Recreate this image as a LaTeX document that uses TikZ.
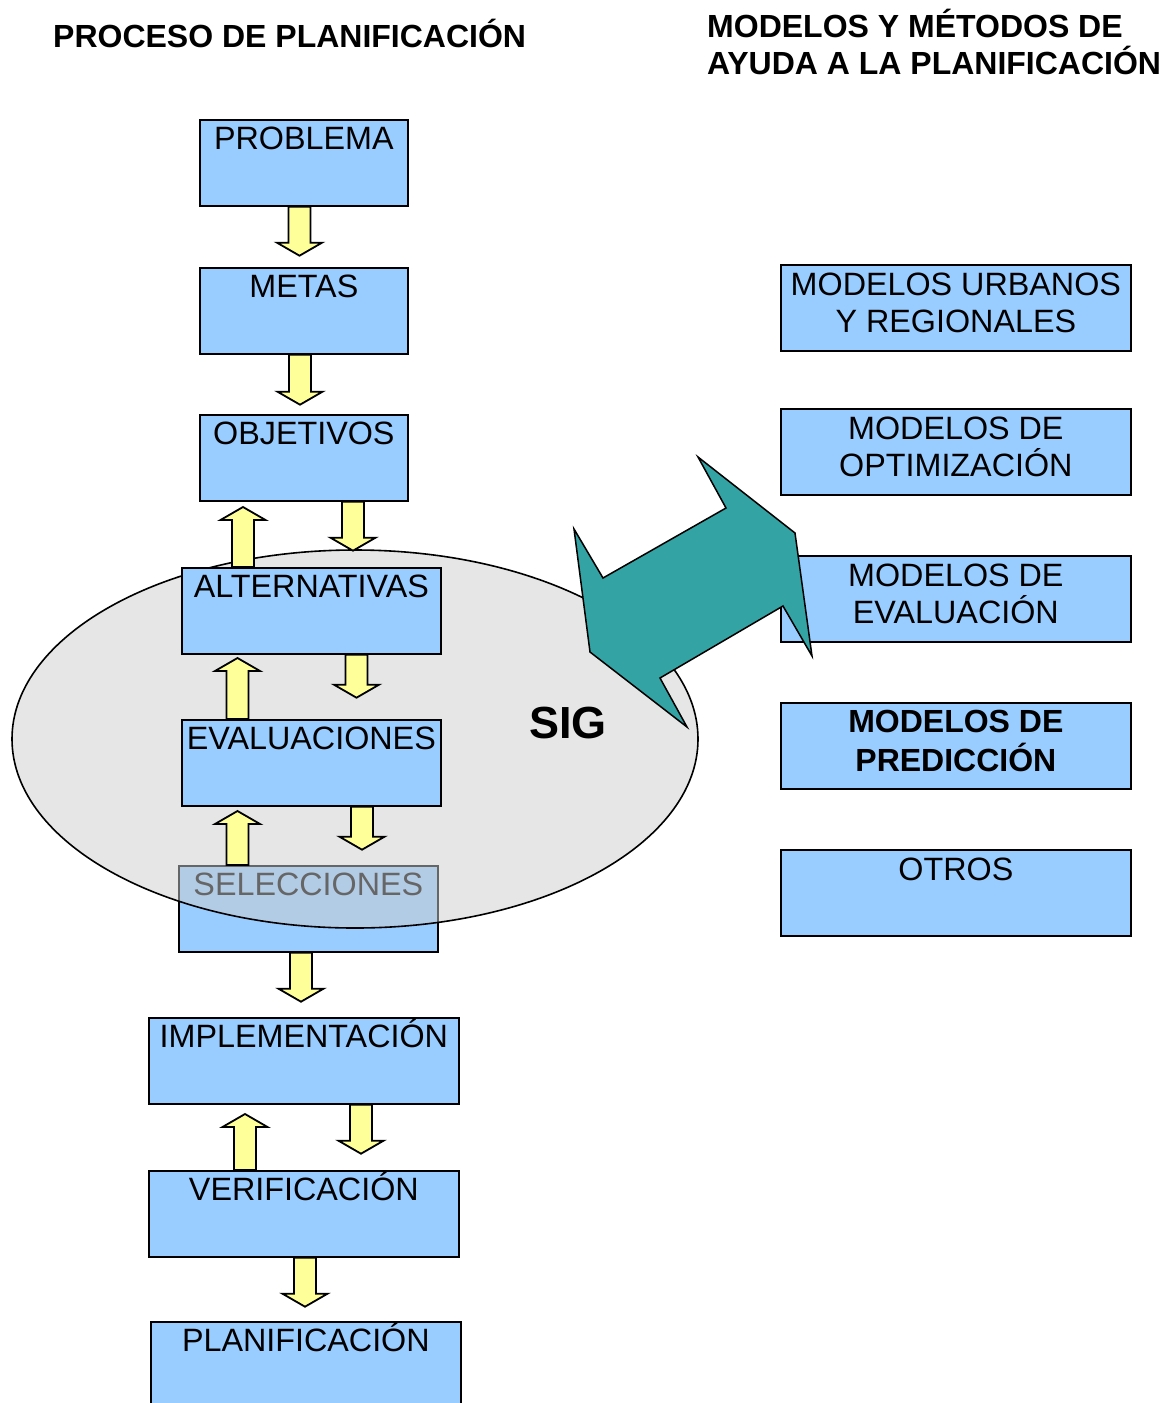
\documentclass[tikz,border=0pt]{standalone}
\usepackage{fontspec}
\setmainfont{Liberation Sans}
\usetikzlibrary{calc,shapes.geometric}
\definecolor{boxblue}{RGB}{153,204,255}
\definecolor{arrowyellow}{RGB}{255,255,153}
\definecolor{tealarrow}{RGB}{51,163,163}
\definecolor{siggray}{RGB}{205,205,205}
\tikzset{
  box/.style={draw=black, line width=1.7pt, fill=boxblue, anchor=north west,
    inner sep=0pt, minimum height=86pt},
  lbl/.style={anchor=base, inner sep=0pt, font=\fontsize{32.3}{37}\selectfont},
  blbl/.style={anchor=base, inner sep=0pt, font=\fontsize{32}{37}\bfseries\selectfont},
  yarrow/.style={draw=black, line width=1.8pt, fill=arrowyellow, line join=miter},
  titletext/.style={font=\fontsize{32}{37}\bfseries\selectfont, anchor=base west, inner sep=0pt},
}
\newcommand{\ydown}[3]{%
  \draw[yarrow] let \p1=(#2.south) in
    (#1pt-11pt,\y1) -- (#1pt+11pt,\y1) -- (#1pt+11pt,\y1-#3pt+13pt)
    -- (#1pt+22.5pt,\y1-#3pt+13pt) -- (#1pt,\y1-#3pt)
    -- (#1pt-22.5pt,\y1-#3pt+13pt) -- (#1pt-11pt,\y1-#3pt+13pt) -- cycle;}
\newcommand{\yup}[3]{%
  \draw[yarrow] let \p1=(#2.north) in
    (#1pt-11pt,\y1) -- (#1pt+11pt,\y1) -- (#1pt+11pt,\y1+#3pt-13pt)
    -- (#1pt+22.5pt,\y1+#3pt-13pt) -- (#1pt,\y1+#3pt)
    -- (#1pt-22.5pt,\y1+#3pt-13pt) -- (#1pt-11pt,\y1+#3pt-13pt) -- cycle;}
\begin{document}
\begin{tikzpicture}[x=1pt,y=-1pt]
\useasboundingbox (0,0) rectangle (1166,1403);

% titles
\node[titletext] (t1) at (53,47) {PROCESO DE PLANIFICACIÓN};
\node[titletext] (t2) at (707,37) {MODELOS Y MÉTODOS DE};
\node[titletext] (t3) at (707,74) {AYUDA A LA PLANIFICACIÓN};

% left column (boxes under the ellipse)
\node[box, minimum width=208pt, label={[lbl,yshift=-30pt]north:PROBLEMA}] (problema) at (199,119) {};
\node[box, minimum width=208pt, label={[lbl,yshift=-30pt]north:METAS}] (metas) at (199,267) {};
\node[box, minimum width=208pt, label={[lbl,yshift=-30pt]north:OBJETIVOS}] (objetivos) at (199,414) {};
\node[box, minimum width=259pt, label={[lbl,yshift=-30pt]north:SELECCIONES}] (selecciones) at (178,865) {};
\node[box, minimum width=310pt, label={[lbl,yshift=-30pt]north:IMPLEMENTACIÓN}] (implementacion) at (148,1017) {};
\node[box, minimum width=310pt, label={[lbl,yshift=-30pt]north:VERIFICACIÓN}] (verificacion) at (148,1170) {};
\node[box, minimum width=310pt, minimum height=100pt, label={[lbl,yshift=-30pt]north:PLANIFICACIÓN}] (planificacion) at (150,1321) {};

% SIG ellipse
\node[ellipse, draw=black, line width=1.6pt, fill=siggray, fill opacity=0.5,
  minimum width=686pt, minimum height=378pt, inner sep=0pt] (sig) at (355,739) {};

% boxes above the ellipse
\node[box, minimum width=259pt, label={[lbl,yshift=-30pt]north:ALTERNATIVAS}] (alternativas) at (181,567) {};
\node[box, minimum width=259pt, label={[lbl,yshift=-30pt]north:EVALUACIONES}] (evaluaciones) at (181,719) {};

\node[anchor=base west, inner sep=0pt, font=\fontsize{45}{50}\bfseries\selectfont] (sigtext) at (529,738) {SIG};

% yellow block arrows
\ydown{299.5}{problema}{49}
\ydown{300}{metas}{50}
\yup{243}{alternativas}{60}
\ydown{353}{objetivos}{49}
\yup{237.5}{evaluaciones}{61}
\ydown{356.5}{alternativas}{43}
\yup{237.5}{selecciones}{54}
\ydown{362}{evaluaciones}{43}
\ydown{301}{selecciones}{49}
\yup{245}{verificacion}{56}
\ydown{361}{implementacion}{49}
\ydown{305}{verificacion}{49}

% right column
\node[box, minimum width=350pt, label={[lbl,yshift=-31pt]north:MODELOS URBANOS}, label={[lbl,yshift=-68pt]north:Y REGIONALES}] (urbanos) at (780,264) {};
\node[box, minimum width=350pt, label={[lbl,yshift=-31pt]north:MODELOS DE}, label={[lbl,yshift=-68pt]north:OPTIMIZACIÓN}] (optimizacion) at (780,408) {};
\node[box, minimum width=350pt, label={[lbl,yshift=-31pt]north:MODELOS DE}, label={[lbl,yshift=-68pt]north:EVALUACIÓN}] (evaluacion) at (780,555) {};
\node[box, minimum width=350pt, label={[blbl,yshift=-30pt]north:MODELOS DE}, label={[blbl,yshift=-69pt]north:PREDICCIÓN}] (prediccion) at (780,702) {};
\node[box, minimum width=350pt, label={[lbl,yshift=-31pt]north:OTROS}] (otros) at (780,849) {};

% teal double arrow
\draw[line width=1.5pt, fill=tealarrow, line join=miter]
  (698,457) -- (795,533) -- (812,656) -- (783,606) -- (660,678) -- (687,727)
  -- (590,652) -- (574,529) -- (603,578) -- (726,508) -- cycle;
\end{tikzpicture}
\end{document}
